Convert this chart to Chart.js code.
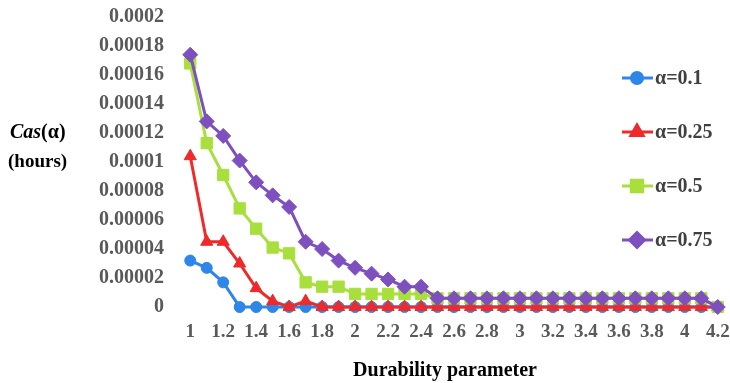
<!DOCTYPE html>
<html>
<head>
<meta charset="utf-8">
<script src="https://cdn.jsdelivr.net/npm/chart.js@4"></script>
<style>
  html, body { margin: 0; padding: 0; background: #fff; }
  #wrap { width: 730px; height: 383px; position: relative; }
</style>
</head>
<body>
<div id="wrap"><canvas id="myChart"></canvas></div>
<script>
const durability = [1, 1.1, 1.2, 1.3, 1.4, 1.5, 1.6, 1.7, 1.8, 1.9, 2, 2.1, 2.2, 2.3, 2.4, 2.5, 2.6, 2.7, 2.8, 2.9, 3, 3.1, 3.2, 3.3, 3.4, 3.5, 3.6, 3.7, 3.8, 3.9, 4, 4.1, 4.2];

const alpha01 = [0.000032, 0.000027, 0.000017, 0, 0, 0, 0, 0, 0, 0, 0, 0, 0, 0, 0, 0, 0, 0, 0, 0, 0, 0, 0, 0, 0, 0, 0, 0, 0, 0, 0, 0, 0];
const alpha025 = [0.000104, 0.000045, 0.000045, 0.000030, 0.000013, 0.000004, 0, 0.000004, 0, 0, 0, 0, 0, 0, 0, 0, 0, 0, 0, 0, 0, 0, 0, 0, 0, 0, 0, 0, 0, 0, 0, 0, 0];
const alpha05 = [0.000168, 0.000113, 0.000091, 0.000068, 0.000054, 0.000041, 0.000037, 0.000017, 0.000014, 0.000014, 0.000009, 0.000009, 0.000009, 0.000009, 0.000009, 0.000006, 0.000006, 0.000006, 0.000006, 0.000006, 0.000006, 0.000006, 0.000006, 0.000006, 0.000006, 0.000006, 0.000006, 0.000006, 0.000006, 0.000006, 0.000006, 0.000006, 0];
const alpha075 = [0.000174, 0.000128, 0.000118, 0.000101, 0.000086, 0.000077, 0.000069, 0.000045, 0.000040, 0.000032, 0.000027, 0.000023, 0.000019, 0.000014, 0.000014, 0.000006, 0.000006, 0.000006, 0.000006, 0.000006, 0.000006, 0.000006, 0.000006, 0.000006, 0.000006, 0.000006, 0.000006, 0.000006, 0.000006, 0.000006, 0.000006, 0.000006, 0];

const seriesNames = ['\u03b1=0.1', '\u03b1=0.25', '\u03b1=0.5', '\u03b1=0.75'];
const yTicks = [0, 0.00002, 0.00004, 0.00006, 0.00008, 0.0001, 0.00012, 0.00014, 0.00016, 0.00018, 0.0002];

const serif = "'Liberation Serif', 'Times New Roman', serif";

function mkSet(label, data, color, style, radius, order) {
  return {
    label: label,
    data: data,
    borderColor: color,
    backgroundColor: color,
    pointBackgroundColor: color,
    pointBorderColor: color,
    pointStyle: style,
    pointRadius: radius,
    pointBorderWidth: 1,
    borderWidth: 3,
    tension: 0,
    clip: false,
    order: order,
  };
}

const data = {
  labels: durability.map(String),
  datasets: [
    mkSet(seriesNames[0], alpha01, '#2E86E8', 'circle', 5.5, 3),
    mkSet(seriesNames[1], alpha025, '#EE2A2A', 'triangle', 7, 2),
    mkSet(seriesNames[2], alpha05, '#A9DF3D', 'rect', 8, 1),
    mkSet(seriesNames[3], alpha075, '#7E4FBF', 'rectRot', 7.5, 0),
  ],
};

// legend + axis titles drawn by hand
const extras = {
  id: 'extras',
  afterDraw(chart) {
    const ctx = chart.ctx;
    ctx.save();
    const ys = [78, 132, 186, 240];
    chart.data.datasets.forEach((ds, i) => {
      const y = ys[i];
      ctx.strokeStyle = ds.borderColor;
      ctx.lineWidth = 3;
      ctx.beginPath();
      ctx.moveTo(622, y);
      ctx.lineTo(653, y);
      ctx.stroke();
      ctx.fillStyle = ds.borderColor;
      Chart.helpers.drawPoint(ctx, { pointStyle: ds.pointStyle, radius: ds.pointRadius, borderWidth: 1 }, 637, y);
      ctx.fill();
      ctx.fillStyle = '#404040';
      ctx.font = 'bold 20px ' + serif;
      ctx.textAlign = 'left';
      ctx.textBaseline = 'middle';
      ctx.fillText(ds.label, 655, y + 1);
    });

    // y title
    ctx.fillStyle = '#000';
    ctx.textBaseline = 'middle';
    ctx.textAlign = 'left';
    ctx.font = 'italic bold 20px ' + serif;
    ctx.fillText('Cas', 10, 133);
    const w = ctx.measureText('Cas').width;
    ctx.font = 'bold 20px ' + serif;
    ctx.fillText('(\u03b1)', 10 + w, 133);
    ctx.font = 'bold 19px ' + serif;
    ctx.fillText('(hours)', 8, 162);

    // x title
    ctx.textAlign = 'center';
    ctx.font = 'bold 20px ' + serif;
    ctx.fillText('Durability parameter', 445, 371);
    ctx.restore();
  }
};

const config = {
  type: 'line',
  data: data,
  plugins: [extras],
  options: {
    responsive: false,
    animation: false,
    layout: { autoPadding: false, padding: { top: 17, right: 4, left: 0, bottom: 0 } },
    plugins: {
      legend: { display: false },
      tooltip: { enabled: false },
    },
    scales: {
      x: {
        offset: true,
        grid: { display: false, drawTicks: false },
        border: { display: false },
        afterFit: (s) => { s.height = 76; s.paddingLeft = 0; s.paddingRight = 0; },
        ticks: {
          autoSkip: false,
          maxRotation: 0,
          padding: 14,
          color: '#595959',
          font: { family: serif, size: 19, weight: 'bold' },
          callback: function (v, i) { return i % 2 === 0 ? this.getLabelForValue(v) : ''; },
        },
      },
      y: {
        min: 0,
        max: 0.0002,
        grid: { display: false, drawTicks: false },
        border: { display: false },
        afterFit: (s) => { s.width = 182; s.paddingTop = 0; s.paddingBottom = 0; },
        afterBuildTicks: (s) => { s.ticks = yTicks.map(v => ({ value: v })); },
        ticks: {
          padding: 18,
          color: '#595959',
          font: { family: serif, size: 20, weight: 'bold' },
          callback: (v) => String(Number(v.toFixed(5))),
        },
      },
    },
  },
};

const canvas = document.getElementById('myChart');
canvas.width = 730;
canvas.height = 383;
const myChart = new Chart(canvas, config);
</script>
</body>
</html>
